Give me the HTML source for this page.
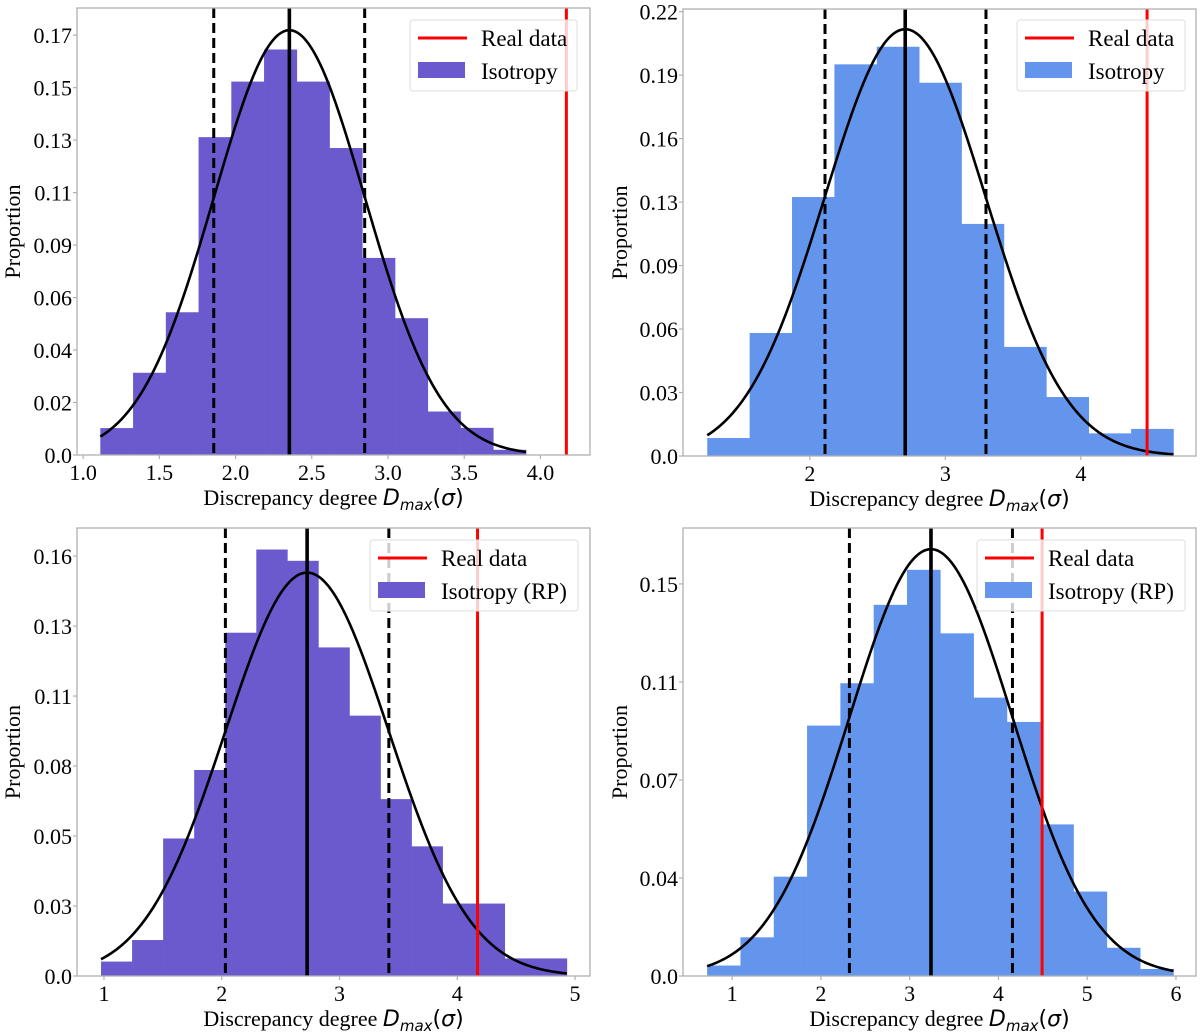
<!DOCTYPE html>
<html><head><meta charset="utf-8">
<style>
html,body{margin:0;padding:0;background:#fff;}
svg{display:block;}
text{font-family:"Liberation Serif",serif;fill:#000;}
</style></head>
<body>
<svg id="fig" width="1200" height="1034" viewBox="0 0 1200 1034" xmlns="http://www.w3.org/2000/svg"></svg>
<script>
// ---- Panel A (top-left) ----
const aBinStart = 1.113, aBinWidth = 0.2148;
const aHeights = [0.0109,0.0333,0.0578,0.1287,0.1512,0.1642,0.1512,0.1243,0.0798,0.0554,0.0176,0.0110,0.0021];
const aFit = {mean:2.353, sigma:0.495, peak:0.172};
const aLo = 1.857, aHi = 2.847, aReal = 4.17;
const aXTicks = [1.0,1.5,2.0,2.5,3.0,3.5,4.0];
const aXLabels = ["1.0","1.5","2.0","2.5","3.0","3.5","4.0"];
const aYTicks = [0,0.02125,0.0425,0.06375,0.085,0.10625,0.1275,0.14875,0.17];
const aYLabels = ["0.0","0.02","0.04","0.06","0.09","0.11","0.13","0.15","0.17"];
// ---- Panel B (top-right) ----
const bBinStart = 1.243, bBinWidth = 0.3128;
const bHeights = [0.0089,0.0609,0.1282,0.1939,0.2026,0.1848,0.1149,0.0540,0.0292,0.0112,0.0134];
const bFit = {mean:2.704, sigma:0.594, peak:0.2113};
const bLo = 2.112, bHi = 3.30, bReal = 4.489;
const bXTicks = [2,3,4];
const bXLabels = ["2","3","4"];
const bYTicks = [0,0.03143,0.06286,0.09429,0.12571,0.15714,0.18857,0.22];
const bYLabels = ["0.0","0.03","0.06","0.09","0.13","0.16","0.19","0.22"];
// ---- Panel C (bottom-left) ----
const cBinStart = 0.975, cBinWidth = 0.2637;
const cHeights = [0.0055,0.0137,0.0524,0.0785,0.1308,0.1625,0.1582,0.1252,0.0992,0.0674,0.0494,0.0276,0.0276,0.0067,0.0067];
const cFit = {mean:2.725, sigma:0.694, peak:0.1537};
const cLo = 2.031, cHi = 3.419, cReal = 4.172;
const cXTicks = [1,2,3,4,5];
const cXLabels = ["1","2","3","4","5"];
const cYTicks = [0,0.02667,0.05333,0.08,0.10667,0.13333,0.16];
const cYLabels = ["0.0","0.03","0.05","0.08","0.11","0.13","0.16"];
// ---- Panel D (bottom-right) ----
const dBinStart = 0.718, dBinWidth = 0.3753;
const dHeights = [0.0040,0.0148,0.0380,0.0958,0.1120,0.1420,0.1554,0.1311,0.1065,0.0972,0.0580,0.0323,0.0108,0.0027];
const dFit = {mean:3.240, sigma:0.918, peak:0.1633};
const dLo = 2.321, dHi = 4.158, dReal = 4.492;
const dXTicks = [1,2,3,4,5,6];
const dXLabels = ["1","2","3","4","5","6"];
const dYTicks = [0,0.0375,0.075,0.1125,0.15];
const dYLabels = ["0.0","0.04","0.07","0.11","0.15"];

const NS = "http://www.w3.org/2000/svg";
const fig = document.getElementById('fig');
function mk(tag, attrs, parent){
  const e = document.createElementNS(NS, tag);
  for (const k in attrs) e.setAttribute(k, attrs[k]);
  (parent||fig).appendChild(e);
  return e;
}

function drawPanel(P){
  const g = mk('g', {});
  
  
  const xs = v => P.L + (v - P.x0) / (P.x1 - P.x0) * (P.R - P.L);
  const ys = v => P.B - (v - 0) / P.ytop * (P.B - P.T);
  P.heights.forEach((h, i) => {
    const a = P.binStart + i * P.binWidth, b = a + P.binWidth;
    const r = mk('rect', {x: xs(a), y: ys(h), width: xs(b) - xs(a) + 0.3, height: ys(0) - ys(h), fill: P.color}, g);
    
    
  });
  let d = '';
  const x0 = P.binStart, x1 = P.binStart + P.heights.length * P.binWidth;
  for (let k = 0; k <= 200; k++) {
    const x = x0 + (x1 - x0) * k / 200;
    const y = P.fit.peak * Math.exp(-Math.pow(x - P.fit.mean, 2) / (2 * P.fit.sigma * P.fit.sigma));
    d += (k ? 'L' : 'M') + xs(x).toFixed(2) + ' ' + ys(y).toFixed(2);
  }
  const c = mk('path', {d: d, fill: 'none', stroke: '#000', 'stroke-width': 2.6}, g);
  
  
  const m = mk('line', {x1: xs(P.fit.mean), x2: xs(P.fit.mean), y1: P.T, y2: P.B, stroke: '#000', 'stroke-width': 3.6}, g);
  
  
  [P.lo, P.hi].forEach(v => {
    const l = mk('line', {x1: xs(v), x2: xs(v), y1: P.T, y2: P.B, stroke: '#000', 'stroke-width': 3, 'stroke-dasharray': '10 5'}, g);
    
    
  });
  const rl = mk('line', {x1: xs(P.real), x2: xs(P.real), y1: P.T, y2: P.B, stroke: '#ff0000', 'stroke-width': 3}, g);
  
  
  const fr = mk('rect', {x: P.L, y: P.T, width: P.R - P.L, height: P.B - P.T, fill: 'none', stroke: '#b0b0b0', 'stroke-width': 1.3}, g);
  
  
  P.xTicks.forEach((v, i) => {
    const x = xs(v);
    mk('line', {x1: x, x2: x, y1: P.B, y2: P.B + 4, stroke: '#b0b0b0', 'stroke-width': 1.2}, g);
    const t = mk('text', {x: x, y: P.B + 25, 'font-size': 22, 'text-anchor': 'middle'}, g);
    t.textContent = P.xLabels[i];
    
    
  });
  P.yTicks.forEach((v, i) => {
    const y = ys(v);
    mk('line', {x1: P.L - 4, x2: P.L, y1: y, y2: y, stroke: '#b0b0b0', 'stroke-width': 1.2}, g);
    const t = mk('text', {x: P.L - 5, y: y + 8, 'font-size': 22, 'text-anchor': 'end'}, g);
    t.textContent = P.yLabels[i];
    
    
  });
  const yt = mk('text', {x: 0, y: 0, 'font-size': 22, 'text-anchor': 'middle', transform: 'translate(' + P.ylabX + ',' + ((P.T + P.B) / 2) + ') rotate(-90)'}, g);
  yt.textContent = 'Proportion';
  
  
  const xt = mk('text', {x: (P.L + P.R) / 2, y: P.B + 50, 'font-size': 22, 'text-anchor': 'middle'}, g);
  
  
  xt.innerHTML = 'Discrepancy degree <tspan font-family="DejaVu Sans" font-style="italic">D</tspan><tspan font-family="DejaVu Sans" font-style="italic" font-size="15" dy="5">max</tspan><tspan font-family="DejaVu Sans" dy="-5">(</tspan><tspan font-family="DejaVu Sans" font-style="italic">σ</tspan><tspan font-family="DejaVu Sans">)</tspan>';
  const lg = mk('g', {}, g);
  
  
  mk('rect', {x: P.lgX, y: P.lgY, width: P.lgW, height: 71, rx: 3, fill: '#fff', 'fill-opacity': 0.8, stroke: '#ddd', 'stroke-width': 1}, lg);
  mk('line', {x1: P.lgX + 8, x2: P.lgX + 57, y1: P.lgY + 18, y2: P.lgY + 18, stroke: '#ff0000', 'stroke-width': 3}, lg);
  const t1 = mk('text', {x: P.lgX + 71, y: P.lgY + 26, 'font-size': 23}, lg);
  t1.textContent = 'Real data';
  
  
  mk('rect', {x: P.lgX + 8, y: P.lgY + 42, width: 47, height: 16, fill: P.color}, lg);
  const t2 = mk('text', {x: P.lgX + 71, y: P.lgY + 59, 'font-size': 23}, lg);
  t2.textContent = P.legendText;
  
  
}

const PURPLE = '#6a5acd', BLUE = '#6495ed';
drawPanel({name:'panel-top-left', L:77, R:590, T:8, B:455, x0:0.96, x1:4.325, ytop:0.181,
  binStart:aBinStart, binWidth:aBinWidth, heights:aHeights, fit:aFit, lo:aLo, hi:aHi, real:aReal,
  xTicks:aXTicks, xLabels:aXLabels, yTicks:aYTicks, yLabels:aYLabels, color:PURPLE,
  ylabX:20, lgX:410, lgY:20, lgW:167, legendText:'Isotropy'});
drawPanel({name:'panel-top-right', L:683, R:1196, T:9, B:456, x0:1.064, x1:4.85, ytop:0.2213,
  binStart:bBinStart, binWidth:bBinWidth, heights:bHeights, fit:bFit, lo:bLo, hi:bHi, real:bReal,
  xTicks:bXTicks, xLabels:bXLabels, yTicks:bYTicks, yLabels:bYLabels, color:BLUE,
  ylabX:627, lgX:1017, lgY:20, lgW:168, legendText:'Isotropy'});
drawPanel({name:'panel-bottom-left', L:77, R:590, T:528, B:976, x0:0.771, x1:5.127, ytop:0.1707,
  binStart:cBinStart, binWidth:cBinWidth, heights:cHeights, fit:cFit, lo:cLo, hi:cHi, real:cReal,
  xTicks:cXTicks, xLabels:cXLabels, yTicks:cYTicks, yLabels:cYLabels, color:PURPLE,
  ylabX:20, lgX:370, lgY:540, lgW:208, legendText:'Isotropy (RP)'});
drawPanel({name:'panel-bottom-right', L:683, R:1196, T:528, B:976, x0:0.446, x1:6.226, ytop:0.1714,
  binStart:dBinStart, binWidth:dBinWidth, heights:dHeights, fit:dFit, lo:dLo, hi:dHi, real:dReal,
  xTicks:dXTicks, xLabels:dXLabels, yTicks:dYTicks, yLabels:dYLabels, color:BLUE,
  ylabX:627, lgX:977, lgY:540, lgW:208, legendText:'Isotropy (RP)'});
</script>
</body></html>
